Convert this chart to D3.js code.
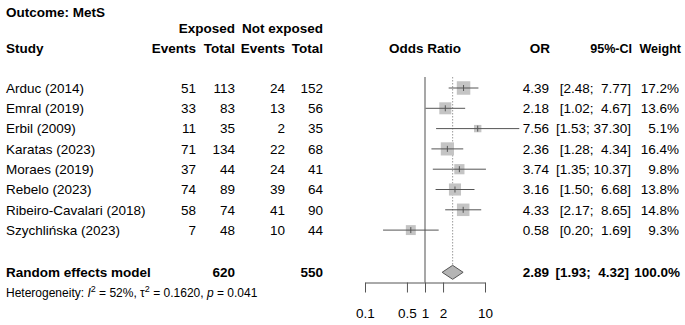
<!DOCTYPE html>
<html>
<head>
<meta charset="utf-8">
<script src="https://cdn.jsdelivr.net/npm/d3@7"></script>
<style>
  html, body { margin: 0; padding: 0; background: #fff; }
  svg text { font-family: "Liberation Sans", Arial, sans-serif; font-size: 13.5px; fill: #000; white-space: pre; }
  .b { font-weight: bold; }
</style>
</head>
<body>
<svg id="chart" width="685" height="325"></svg>
<script>
const studies = ["Arduc (2014)", "Emral (2019)", "Erbil (2009)", "Karatas (2023)", "Moraes (2019)", "Rebelo (2023)", "Ribeiro-Cavalari (2018)", "Szychlińska (2023)"];
const expEvents = [51, 33, 11, 71, 37, 74, 58, 7];
const expTotal = [113, 83, 35, 134, 44, 89, 74, 48];
const ctrlEvents = [24, 13, 2, 22, 24, 39, 41, 10];
const ctrlTotal = [152, 56, 35, 68, 41, 64, 90, 44];
const orValues = [4.39, 2.18, 7.56, 2.36, 3.74, 3.16, 4.33, 0.58];
const ciLower = [2.48, 1.02, 1.53, 1.28, 1.35, 1.50, 2.17, 0.20];
const ciUpper = [7.77, 4.67, 37.30, 4.34, 10.37, 6.68, 8.65, 1.69];
const weights = [17.2, 13.6, 5.1, 16.4, 9.8, 13.8, 14.8, 9.3];
const summaryLabel = "Random effects model";
const summaryExpTotal = 620;
const summaryCtrlTotal = 550;
const summaryOR = 2.89, summaryLower = 1.93, summaryUpper = 4.32, summaryWeight = 100.0;
const tickValues = [0.1, 0.5, 1, 2, 10];
const tickLabels = ["0.1", "0.5", "1", "2", "10"];

const svg = d3.select("#chart");
const x = d3.scaleLog().domain([0.1, 10]).range([365, 485]);
const rowY = d3.scaleLinear().domain([0, 1]).range([88, 108.3]);
const sumY = 272.3;
const boxSize = d3.scaleSqrt().domain([0, 17.2]).range([0, 13.5]);

const fmt2 = d3.format(".2f");
const maxUpW = d3.max(ciUpper.concat([summaryUpper]), v => fmt2(v).length);
const maxLoW = d3.max(ciLower.concat([summaryLower]), v => fmt2(v).length);
const ciStr = (lo, up) => "[" + fmt2(lo).padStart(maxLoW) + "; " + fmt2(up).padStart(maxUpW) + "]";

// Headers
svg.append("text").attr("class", "b").attr("x", 6).attr("y", 16.5).text("Outcome: MetS");
svg.append("text").attr("class", "b").attr("x", 235).attr("y", 32.5).attr("text-anchor", "end").text("Exposed");
svg.append("text").attr("class", "b").attr("x", 323).attr("y", 32.5).attr("text-anchor", "end").text("Not exposed");
const hdrY = 52.5;
svg.append("text").attr("class", "b").attr("x", 6).attr("y", hdrY).text("Study");
[[196, "Events"], [235, "Total"], [285, "Events"], [323, "Total"], [550, "OR"]].forEach(([xx, t]) => {
  svg.append("text").attr("class", "b").attr("x", xx).attr("y", hdrY).attr("text-anchor", "end").text(t);
});
// narrower headers so they don't touch
[[632, "95%-CI"], [681, "Weight"]].forEach(([xx, t]) => {
  svg.append("text").attr("class", "b").attr("text-anchor", "end")
    .attr("transform", `translate(${xx},${hdrY}) scale(0.93,1)`).text(t);
});
svg.append("text").attr("class", "b").attr("x", x(1)).attr("y", hdrY).attr("text-anchor", "middle").text("Odds Ratio");

// Reference lines
svg.append("line").attr("x1", x(1)).attr("x2", x(1)).attr("y1", 77).attr("y2", 282.5)
  .attr("stroke", "#8a8a8a").attr("stroke-width", 1.5);
svg.append("line").attr("x1", x(summaryOR)).attr("x2", x(summaryOR)).attr("y1", 77).attr("y2", sumY - 7)
  .attr("stroke", "#9a9a9a").attr("stroke-width", 1).attr("stroke-dasharray", "1.5,1.5");

// Study rows
const rows = svg.selectAll("g.row").data(studies).join("g").attr("class", "row");
rows.each(function(name, i) {
  const g = d3.select(this);
  const cy = rowY(i);
  const by = cy + 4.7;
  g.append("text").attr("x", 6).attr("y", by).text(name);
  g.append("text").attr("x", 196).attr("y", by).attr("text-anchor", "end").text(expEvents[i]);
  g.append("text").attr("x", 235).attr("y", by).attr("text-anchor", "end").text(expTotal[i]);
  g.append("text").attr("x", 285).attr("y", by).attr("text-anchor", "end").text(ctrlEvents[i]);
  g.append("text").attr("x", 323).attr("y", by).attr("text-anchor", "end").text(ctrlTotal[i]);
  g.append("text").attr("x", 549).attr("y", by).attr("text-anchor", "end").text(fmt2(orValues[i]));
  g.append("text").attr("x", 631).attr("y", by).attr("text-anchor", "end").text(ciStr(ciLower[i], ciUpper[i]));
  g.append("text").attr("x", 679).attr("y", by).attr("text-anchor", "end").text(d3.format(".1f")(weights[i]) + "%");
  const s = boxSize(weights[i]);
  g.append("rect").attr("x", x(orValues[i]) - s / 2).attr("y", cy - s / 2).attr("width", s).attr("height", s)
    .attr("fill", "#c4c4c4");
  g.append("line").attr("x1", x(ciLower[i])).attr("x2", x(ciUpper[i])).attr("y1", cy).attr("y2", cy)
    .attr("stroke", "#555").attr("stroke-width", 1);
  g.append("line").attr("x1", x(orValues[i])).attr("x2", x(orValues[i])).attr("y1", cy - 3).attr("y2", cy + 3)
    .attr("stroke", "#555").attr("stroke-width", 1);
});

// Summary row
const sb = sumY + 4.7;
svg.append("text").attr("class", "b").attr("x", 6).attr("y", sb).text(summaryLabel);
svg.append("text").attr("class", "b").attr("x", 235).attr("y", sb).attr("text-anchor", "end").text(summaryExpTotal);
svg.append("text").attr("class", "b").attr("x", 323).attr("y", sb).attr("text-anchor", "end").text(summaryCtrlTotal);
svg.append("text").attr("class", "b").attr("x", 549).attr("y", sb).attr("text-anchor", "end").text(fmt2(summaryOR));
svg.append("text").attr("class", "b").attr("x", 629).attr("y", sb).attr("text-anchor", "end").text(ciStr(summaryLower, summaryUpper));
svg.append("text").attr("class", "b").attr("x", 680).attr("y", sb).attr("text-anchor", "end").text(d3.format(".1f")(summaryWeight) + "%");
const dh = 7;
svg.append("path")
  .attr("d", `M${x(summaryLower)},${sumY} L${x(summaryOR)},${sumY - dh} L${x(summaryUpper)},${sumY} L${x(summaryOR)},${sumY + dh} Z`)
  .attr("fill", "#b4b4b4").attr("stroke", "#555").attr("stroke-width", 1);

// Heterogeneity
const het = svg.append("text").attr("x", 6).attr("y", 297).style("font-size", "12px");
het.append("tspan").text("Heterogeneity: ");
het.append("tspan").style("font-style", "italic").text("I");
het.append("tspan").attr("dy", -5).style("font-size", "9px").text("2");
het.append("tspan").attr("dy", 5).text(" = 52%, τ");
het.append("tspan").attr("dy", -5).style("font-size", "9px").text("2");
het.append("tspan").attr("dy", 5).text(" = 0.1620, ");
het.append("tspan").style("font-style", "italic").text("p");
het.append("tspan").text(" = 0.041");

// Axis
const axis = d3.axisBottom(x).tickValues(tickValues).tickSize(10).tickSizeOuter(0).tickPadding(16)
  .tickFormat((d, i) => tickLabels[i]);
const ax = svg.append("g").attr("transform", "translate(0,282.5)").call(axis);
ax.select(".domain").attr("stroke", "#555");
ax.selectAll(".tick line").attr("stroke", "#555");
ax.selectAll(".tick text").attr("fill", "#000").style("font-size", "13.5px").style("font-family", "Liberation Sans, Arial, sans-serif");
</script>
</body>
</html>
